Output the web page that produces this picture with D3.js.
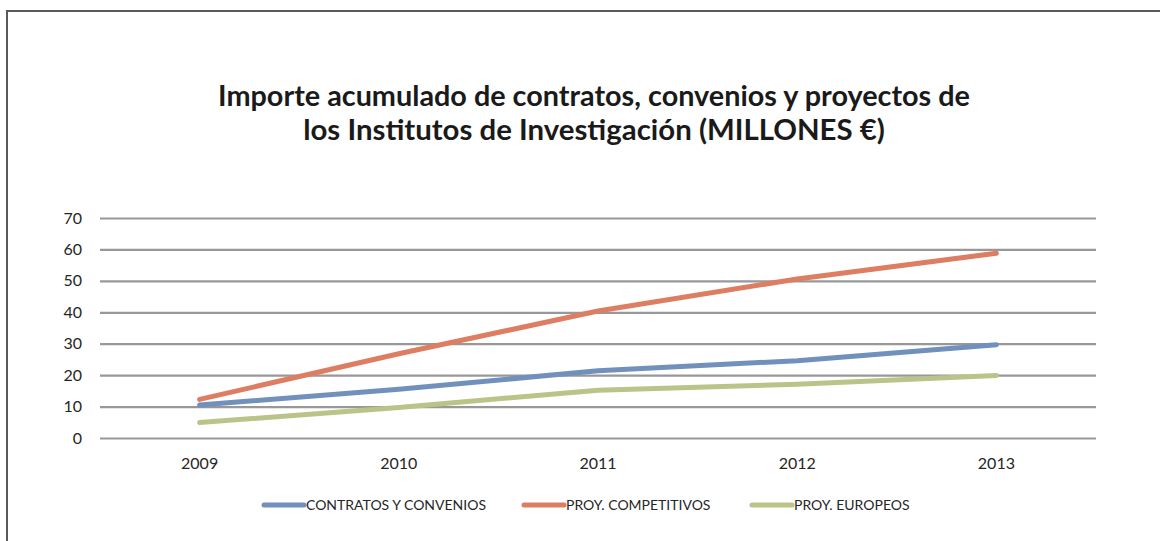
<!DOCTYPE html>
<html>
<head>
<meta charset="utf-8">
<script src="https://cdn.jsdelivr.net/npm/d3@7"></script>
<style>
  body { margin: 0; background: #fff; }
  svg { display: block; }
</style>
</head>
<body>
<svg id="chart" width="1160" height="541"></svg>
<script>
var years = ['2009', '2010', '2011', '2012', '2013'];
var contratos = [10.5, 15.5, 21.4, 24.6, 29.7];
var competitivos = [12.3, 26.8, 40.4, 50.6, 58.8];
var europeos = [4.9, 9.7, 15.2, 17.1, 19.9];
var yTicks = [0, 10, 20, 30, 40, 50, 60, 70];
var seriesNames = ['CONTRATOS Y CONVENIOS', 'PROY. COMPETITIVOS', 'PROY. EUROPEOS'];
var seriesColors = ['#7190bb', '#dd7e63', '#bbc389'];
var titleLines = ['Importe acumulado de contratos, convenios y proyectos de',
                  'los Institutos de Investigación (MILLONES €)'];

var series = [contratos, competitivos, europeos];
var svg = d3.select('#chart');
var font = 'Lato, "Open Sans", sans-serif';

// outer frame (runs off the right and bottom edges)
svg.append('path')
    .attr('d', 'M7,560 L7,11 L1180,11')
    .attr('fill', 'none')
    .attr('stroke', '#595959')
    .attr('stroke-width', 2);

// title, sized to the width it takes in the original
var titleTargets = [752, 582];
var titleBase = [106, 140];
titleLines.forEach(function (t, i) {
    var txt = svg.append('text')
        .attr('x', 594)
        .attr('y', titleBase[i])
        .attr('text-anchor', 'middle')
        .style('font-family', font)
        .style('font-weight', 'bold')
        .style('font-size', '28px')
        .style('fill', '#1a1a1a')
        .text(t);
    var w = txt.node().getComputedTextLength();
    txt.style('font-size', (28 * titleTargets[i] / w).toFixed(2) + 'px');
});

var x = d3.scaleBand().domain(years).range([100, 1096]).padding(0);
var y = d3.scaleLinear().domain([0, 70]).range([438, 218]);

// gridlines + y labels
var yAxis = d3.axisLeft(y).tickValues(yTicks).tickSize(-996).tickPadding(18);
var gy = svg.append('g').attr('transform', 'translate(100,0)').call(yAxis);
gy.select('.domain').remove();
gy.selectAll('.tick line').attr('stroke', '#989898').attr('stroke-width', 2.2);
gy.selectAll('.tick text')
    .style('font-family', font)
    .style('font-size', '16px')
    .style('fill', '#262626');

// x labels
var xAxis = d3.axisBottom(x).tickSize(0).tickPadding(20);
var gx = svg.append('g').attr('transform', 'translate(0,438)').call(xAxis);
gx.select('.domain').remove();
gx.selectAll('.tick text')
    .style('font-family', font)
    .style('font-size', '16px')
    .style('fill', '#262626');

// lines
var line = d3.line()
    .x(function (d, i) { return x(years[i]) + x.bandwidth() / 2; })
    .y(function (d) { return y(d); });

series.forEach(function (s, i) {
    svg.append('path')
        .datum(s)
        .attr('d', line)
        .attr('fill', 'none')
        .attr('stroke', seriesColors[i])
        .attr('stroke-width', 5)
        .attr('stroke-linejoin', 'round')
        .attr('stroke-linecap', 'round');
});

// legend
var legendX = [262, 522, 750];
var legend = svg.append('g');
seriesNames.forEach(function (n, i) {
    legend.append('line')
        .attr('x1', legendX[i] + 2)
        .attr('x2', legendX[i] + 42)
        .attr('y1', 505)
        .attr('y2', 505)
        .attr('stroke', seriesColors[i])
        .attr('stroke-width', 5)
        .attr('stroke-linecap', 'round');
    legend.append('text')
        .attr('x', legendX[i] + 44)
        .attr('y', 510)
        .style('font-family', font)
        .style('font-size', '14px')
        .style('fill', '#262626')
        .text(n);
});
</script>
</body>
</html>
